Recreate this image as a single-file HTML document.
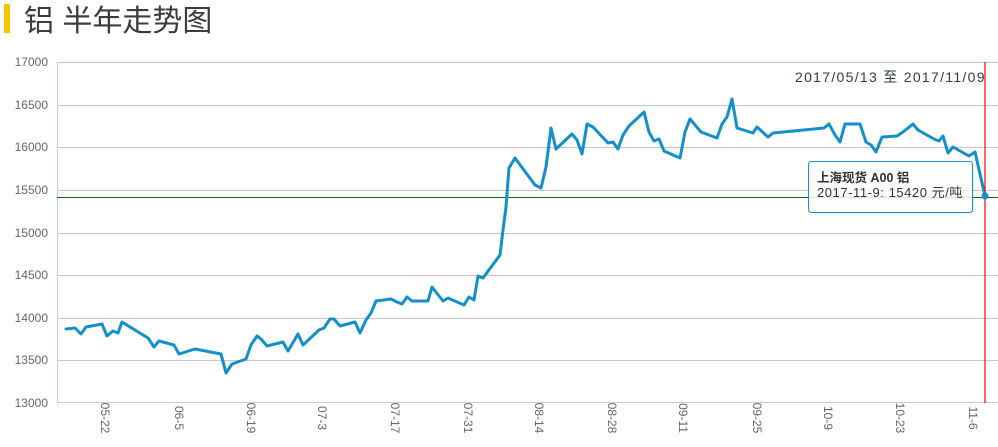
<!DOCTYPE html>
<html>
<head>
<meta charset="utf-8">
<style>
  html, body { margin: 0; padding: 0; background: #ffffff; }
  body { width: 998px; height: 447px; overflow: hidden; }
  svg { display: block; }
  text { font-family: "Liberation Sans", "Noto Sans CJK SC", sans-serif; }
</style>
</head>
<body>
<svg width="998" height="447" viewBox="0 0 998 447" xmlns="http://www.w3.org/2000/svg">
  <rect x="0" y="0" width="998" height="447" fill="#ffffff"/>

  <!-- Title -->
  <rect x="4" y="4" width="6" height="29" fill="#f7c500"/>
  <text x="24" y="31" font-size="30" fill="#3c3c3c" font-family="'Liberation Sans','Noto Sans CJK SC',sans-serif">铝 半年走势图</text>

  <!-- Grid lines -->
  <g stroke="#c6c6c6" stroke-width="1" shape-rendering="crispEdges">
    <line x1="57" y1="62.5" x2="998" y2="62.5"/>
    <line x1="57" y1="105.5" x2="998" y2="105.5"/>
    <line x1="57" y1="147.5" x2="998" y2="147.5"/>
    <line x1="57" y1="190.5" x2="998" y2="190.5"/>
    <line x1="57" y1="233.5" x2="998" y2="233.5"/>
    <line x1="57" y1="275.5" x2="998" y2="275.5"/>
    <line x1="57" y1="318.5" x2="998" y2="318.5"/>
    <line x1="57" y1="360.5" x2="998" y2="360.5"/>
  </g>

  <!-- Axes -->
  <g stroke="#c0d0e0" stroke-width="1" shape-rendering="crispEdges">
    <line x1="57.5" y1="62" x2="57.5" y2="403"/>
    <line x1="57" y1="402.5" x2="998" y2="402.5"/>
  </g>

  <!-- Y labels -->
  <g font-size="12" fill="#666666" text-anchor="end">
    <text x="48" y="66">17000</text>
    <text x="48" y="109">16500</text>
    <text x="48" y="151">16000</text>
    <text x="48" y="194">15500</text>
    <text x="48" y="237">15000</text>
    <text x="48" y="279">14500</text>
    <text x="48" y="322">14000</text>
    <text x="48" y="364">13500</text>
    <text x="48" y="407">13000</text>
  </g>

  <!-- X labels (rotated) -->
  <g font-size="12" fill="#666666" text-anchor="middle">
    <text transform="translate(101,418) rotate(90)">05-22</text>
    <text transform="translate(175,418) rotate(90)">06-5</text>
    <text transform="translate(247,418) rotate(90)">06-19</text>
    <text transform="translate(318,418) rotate(90)">07-3</text>
    <text transform="translate(391,418) rotate(90)">07-17</text>
    <text transform="translate(464,418) rotate(90)">07-31</text>
    <text transform="translate(535,418) rotate(90)">08-14</text>
    <text transform="translate(608,418) rotate(90)">08-28</text>
    <text transform="translate(679,418) rotate(90)">09-11</text>
    <text transform="translate(753,418) rotate(90)">09-25</text>
    <text transform="translate(824,418) rotate(90)">10-9</text>
    <text transform="translate(896,418) rotate(90)">10-23</text>
    <text transform="translate(969,418) rotate(90)">11-6</text>
  </g>

  <!-- Date range -->
  <text x="795" y="82" font-size="14" fill="#2f3b4c" letter-spacing="1.3">2017/05/13 至 2017/11/09</text>

  <!-- Green reference line -->
  <line x1="57" y1="197.5" x2="998" y2="197.5" stroke="#0a6b0a" stroke-width="1" shape-rendering="crispEdges"/>

  <!-- Series -->
  <polyline fill="none" stroke="#1390cb" stroke-width="3" stroke-linejoin="round" stroke-linecap="round"
    points="66,329 75,328 81,334 86,327 102,324 107,336 113,331 118,333 122,322 148,338 154,347 159,341 174,345 179,354 195,349 221,354 226,373 232,364 246,359 251,345 257,336 261,339 267,346 283,342 288,351 298,334 303,345 319,330 324,328 330,319 334,319 340,326 355,322 360,333 366,320 371,313 376,301 391,299 397,302 402,304 407,297 412,301 428,301 432,287 443,301 448,298 464,305 469,297 474,300 478,276 483,278 500,255 503,230 506,207 509,168 515,158 535,185 541,188 546,167 551,128 556,149 572,134 577,140 582,154 587,124 593,127 608,143 613,142 618,149 623,135 629,126 644,112 649,132 654,141 659,139 664,151 680,158 685,132 690,119 701,132 717,138 722,124 727,117 732,99 737,128 753,133 757,127 768,137 773,133 824,128 829,124 835,135 840,142 845,124 860,124 866,142 871,145 876,152 882,137 897,136 903,132 913,124 918,130 934,139 939,141 943,136 948,153 953,147 969,156 975,152 985,196"/>

  <!-- Red crosshair -->
  <line x1="985" y1="62" x2="985" y2="403" stroke="#ff0000" stroke-width="1.2"/>

  <!-- Marker -->
  <circle cx="985" cy="196" r="3.5" fill="#1390cb"/>

  <!-- Tooltip -->
  <rect x="810" y="163" width="164" height="51" rx="3" fill="rgba(0,0,0,0.06)"/>
  <rect x="808.5" y="161.5" width="164" height="51" rx="3" fill="rgba(255,255,255,0.85)" stroke="#1a8fc8" stroke-width="1"/>
  <text x="817" y="182" font-size="12.5" font-weight="bold" fill="#333333">上海现货 A00 铝</text>
  <text x="817" y="197" font-size="13" fill="#333333" letter-spacing="0.55">2017-11-9: 15420 元/吨</text>
</svg>
</body>
</html>
